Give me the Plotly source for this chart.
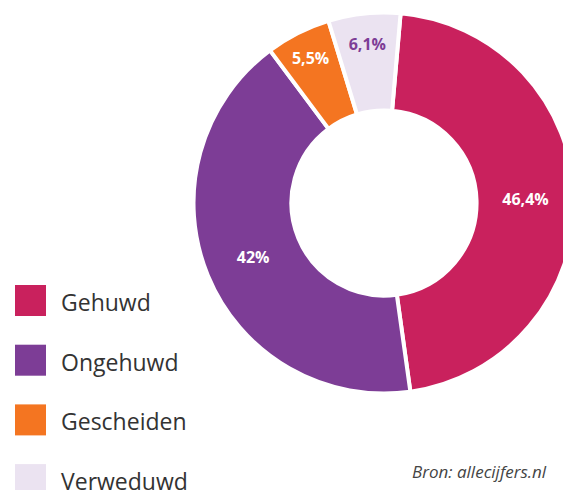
import plotly.graph_objects as go

labels = ["Gehuwd", "Ongehuwd", "Gescheiden", "Verweduwd"]
values = [46.4, 42.0, 5.5, 6.1]
colors = ["#C9215D", "#7D3D96", "#F47521", "#EBE3F1"]
text_colors = ["#FFFFFF", "#FFFFFF", "#FFFFFF", "#7D3D96"]
source_text = "Bron: allecijfers.nl"

W, H = 580, 490
cx, cy, R = 384.0, 203.0, 190.5

pct_text = [(f"{v:g}").replace(".", ",") + "%" for v in values]

fig = go.Figure()
fig.add_trace(go.Pie(
    labels=labels,
    values=values,
    text=pct_text,
    textinfo="text",
    hoverinfo="label+text",
    textposition="inside",
    insidetextorientation="horizontal",
    textfont=dict(family="Open Sans", size=16, color=text_colors, weight="bold"),
    marker=dict(colors=colors, line=dict(color="#FFFFFF", width=4)),
    hole=0.486,
    sort=False,
    direction="clockwise",
    rotation=5,
    showlegend=False,
    domain=dict(x=[(cx - R) / W, (cx + R) / W],
                y=[(H - (cy + R)) / H, (H - (cy - R)) / H]),
))

shapes = []
annotations = []
box = 31
x0 = 15
top0 = 285
step = 59.7
for i, (lab, col) in enumerate(zip(labels, colors)):
    top = top0 + i * step
    shapes.append(dict(type="rect", xref="paper", yref="paper",
                       x0=x0 / W, x1=(x0 + box) / W,
                       y0=(H - top - box) / H, y1=(H - top) / H,
                       fillcolor=col, line=dict(width=0)))
    annotations.append(dict(xref="paper", yref="paper",
                            x=59 / W, y=(H - top - box / 2 - 1.5) / H,
                            xanchor="left", yanchor="middle", showarrow=False,
                            text=lab,
                            font=dict(family="Open Sans", size=23, color="#333333")))

annotations.append(dict(xref="paper", yref="paper", x=549 / W, y=(H - 471) / H,
                        xanchor="right", yanchor="middle", showarrow=False,
                        text=f"<i>{source_text}</i>",
                        font=dict(family="Open Sans", size=17, color="#444444")))

fig.update_layout(
    width=W, height=H, autosize=False,
    margin=dict(l=0, r=0, t=0, b=0),
    paper_bgcolor="#FFFFFF",
    plot_bgcolor="#FFFFFF",
    shapes=shapes,
    annotations=annotations,
)

fig.write_html("out.html",
               config={"displayModeBar": False},
               post_script="document.body.style.margin='0';document.body.style.overflow='hidden';")
